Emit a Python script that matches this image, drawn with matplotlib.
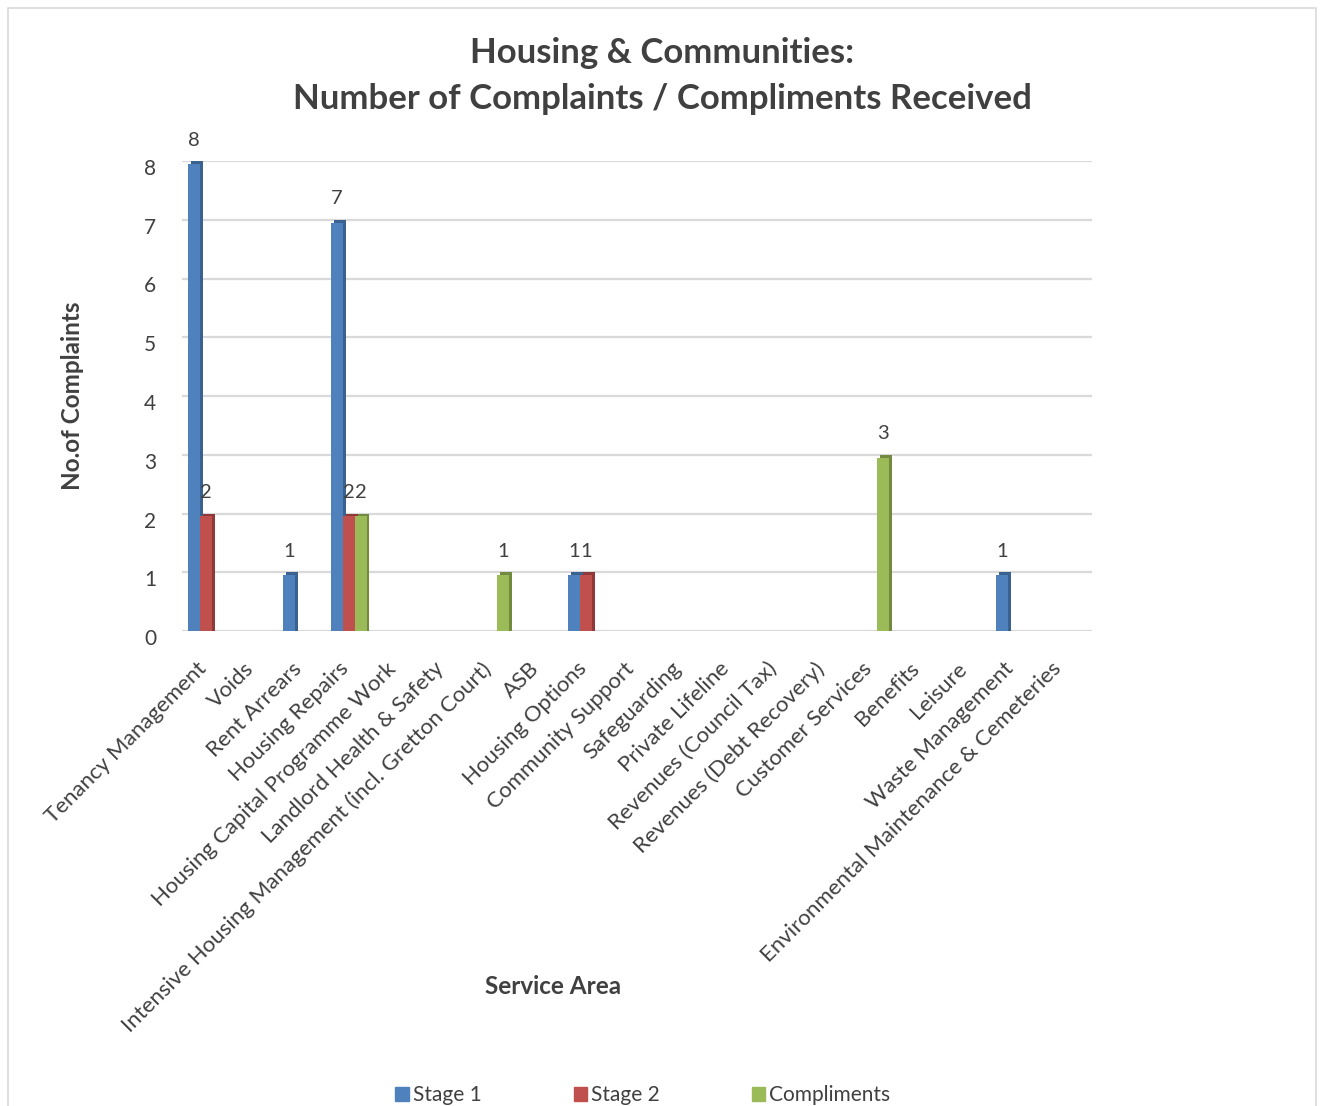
import matplotlib
matplotlib.use("Agg")
import matplotlib.pyplot as plt
import matplotlib.patches as mpatches
from matplotlib.transforms import ScaledTranslation
import numpy as np

categories = ["Tenancy Management", "Voids", "Rent Arrears", "Housing Repairs",
              "Housing Capital Programme Work", "Landlord Health & Safety",
              "Intensive Housing Management (incl. Gretton Court)", "ASB",
              "Housing Options", "Community Support", "Safeguarding",
              "Private Lifeline", "Revenues (Council Tax)", "Revenues (Debt Recovery)",
              "Customer Services", "Benefits", "Leisure", "Waste Management",
              "Environmental Maintenance & Cemeteries"]
stage1 = [8, 0, 1, 7, 0, 0, 0, 0, 1, 0, 0, 0, 0, 0, 0, 0, 0, 1, 0]
stage2 = [2, 0, 0, 2, 0, 0, 0, 0, 1, 0, 0, 0, 0, 0, 0, 0, 0, 0, 0]
compliments = [0, 0, 0, 2, 0, 0, 1, 0, 0, 0, 0, 0, 0, 0, 3, 0, 0, 0, 0]
series_names = ["Stage 1", "Stage 2", "Compliments"]
yticks = [0, 1, 2, 3, 4, 5, 6, 7, 8]

colors = ["#4f81bd", "#c0504d", "#9bbb59"]
dark = ["#3a6290", "#8f3a38", "#718a40"]

plt.rcParams['font.family'] = ['Lato', 'DejaVu Sans']
W, H = 1321, 1106
fig = plt.figure(figsize=(W / 100, H / 100), dpi=100)

left, right = 182.5 / W, 1092 / W
bottom, top = 1 - 631 / H, 1 - 161 / H
ax = fig.add_axes([left, bottom, right - left, top - bottom])

x = np.arange(len(categories))
bw = 0.25
offsets = [-0.25, 0.0, 0.25]
for vals, off, c, dc, name in zip([stage1, stage2, compliments], offsets, colors, dark, series_names):
    vals = np.array(vals, dtype=float)
    mask = vals > 0
    ax.bar(x[mask] + off + 0.06, vals[mask], width=bw, bottom=0.0,
           color=dc, zorder=2, linewidth=0)
    ax.bar(x[mask] + off, vals[mask], width=bw, bottom=-0.05, color=c, zorder=3,
           linewidth=0, label=name)
    for xi, v in zip(x[mask] + off, vals[mask]):
        ax.annotate(f"{int(v)}", (xi, v), xytext=(0, 9), textcoords="offset points",
                    ha="center", va="bottom", fontsize=14.5, color="#404040", zorder=5)

ax.set_xlim(-0.5, -0.5 + (1092 - 182.5) / 47.5)
ax.set_ylim(0, 8)
ax.set_yticks(yticks)
ax.set_yticklabels([str(t) for t in yticks], fontsize=15, color="#404040")
ax.yaxis.grid(True, color="#d9d9d9", linewidth=1.6, zorder=0)
ax.set_axisbelow(True)
ax.tick_params(axis="y", length=0, pad=19)
ax.tick_params(axis="x", length=0, pad=4)
ax.set_xticks(x)
ax.set_xticklabels(categories, rotation=45, ha="right", rotation_mode="anchor",
                   fontsize=16, color="#404040")
for lab in ax.get_xticklabels():
    lab.set_transform(lab.get_transform() + ScaledTranslation(-0.10, -0.22, fig.dpi_scale_trans))
for lab in ax.get_yticklabels():
    lab.set_transform(lab.get_transform() + ScaledTranslation(0, -0.06, fig.dpi_scale_trans))
for s in ax.spines.values():
    s.set_visible(False)
ax.set_ylabel("No.of Complaints", fontsize=17.5, fontweight="bold", color="#404040", labelpad=43)

fig.text(553 / W, 1 - 986 / H, "Service Area", fontsize=17.5, fontweight="bold",
         color="#404040", ha="center", va="center")
fig.text(662 / W, 1 - 53 / H, "Housing & Communities:", fontsize=25, fontweight="bold",
         color="#404040", ha="center", va="center")
fig.text(662 / W, 1 - 99 / H, "Number of Complaints / Compliments Received", fontsize=25,
         fontweight="bold", color="#404040", ha="center", va="center")

handles = [mpatches.Patch(color=c) for c in colors]
fig.legend(handles, series_names, loc="center", bbox_to_anchor=(643 / W, 1 - 1095 / H),
           ncol=3, frameon=False, fontsize=15, handlelength=0.65, handleheight=0.65,
           handletextpad=0.2, columnspacing=4.4, labelcolor="#404040")

fig.patches.append(mpatches.Rectangle((8 / W, -0.01), (1316 - 8) / W, 1 - 8 / H + 0.01,
                                      transform=fig.transFigure, fill=False,
                                      edgecolor="#d9d9d9", linewidth=1.2))

fig.savefig("out.png", dpi=100, facecolor="white")
